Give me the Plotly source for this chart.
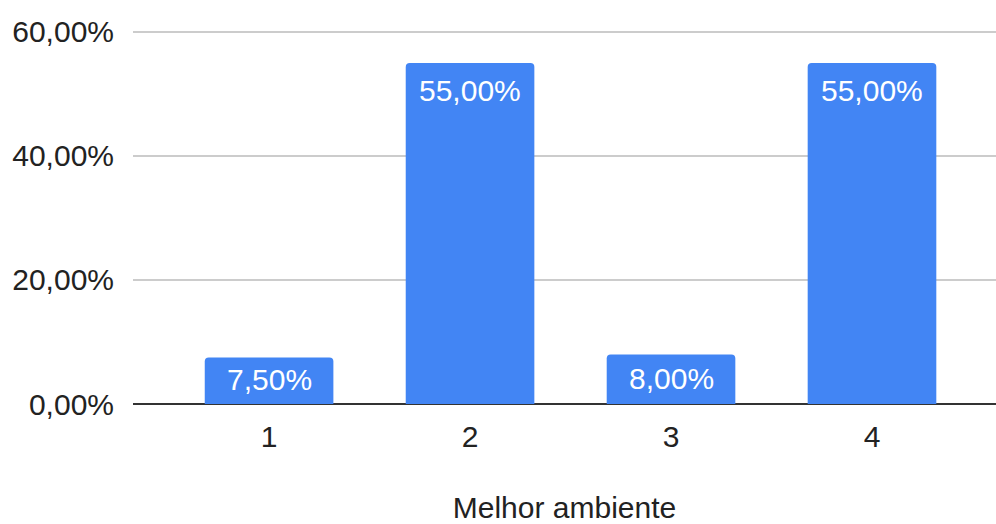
import plotly.graph_objects as go

categories = ["1", "2", "3", "4"]
values = [7.5, 55.0, 8.0, 55.0]
tick_vals = [0, 20, 40, 60]
tick_text = ["0,00%", "20,00%", "40,00%", "60,00%"]
labels = [f"{v:.2f}".replace(".", ",") + "%" for v in values]

FONT = "Liberation Sans, Arial, sans-serif"
TEXT = "#222222"

fig = go.Figure(
    go.Bar(
        x=list(range(len(categories))),
        y=values,
        marker=dict(color="#4285f4", line=dict(width=0)),
        width=0.64,
        hovertext=labels,
        hoverinfo="text",
    )
)

# Value labels: pinned near the top of tall bars, centred in short ones
for i, (v, lab) in enumerate(zip(values, labels)):
    if v > 10:
        fig.add_annotation(x=i, y=v, yanchor="top", yshift=-9, text=lab,
                           showarrow=False,
                           font=dict(color="white", size=30, family=FONT))
    else:
        fig.add_annotation(x=i, y=v / 2, yanchor="middle", yshift=1, text=lab,
                           showarrow=False,
                           font=dict(color="white", size=30, family=FONT))

fig.update_layout(
    width=996,
    height=524,
    margin=dict(l=133, r=0, t=29, b=120),
    plot_bgcolor="white",
    paper_bgcolor="white",
    barcornerradius=4,
    showlegend=False,
    font=dict(family=FONT, color=TEXT, size=30),
)

fig.update_xaxes(
    range=[-0.677, 3.617],
    tickvals=list(range(len(categories))),
    ticktext=categories,
    showgrid=False,
    zeroline=False,
    showline=False,
    ticks="",
    ticklabelstandoff=12,
    automargin=False,
    tickfont=dict(size=30, color=TEXT, family=FONT),
    title=dict(text="Melhor ambiente", font=dict(size=30, color=TEXT, family=FONT), standoff=53),
)

fig.update_yaxes(
    range=[0, 60.48],
    tickvals=tick_vals,
    ticktext=tick_text,
    showgrid=True,
    gridcolor="#cccccc",
    gridwidth=2,
    zeroline=True,
    zerolinecolor="#333333",
    zerolinewidth=2,
    showline=False,
    ticks="",
    ticklabelstandoff=18,
    automargin=False,
    tickfont=dict(size=30, color=TEXT, family=FONT),
)

fig.write_html("out.html")
